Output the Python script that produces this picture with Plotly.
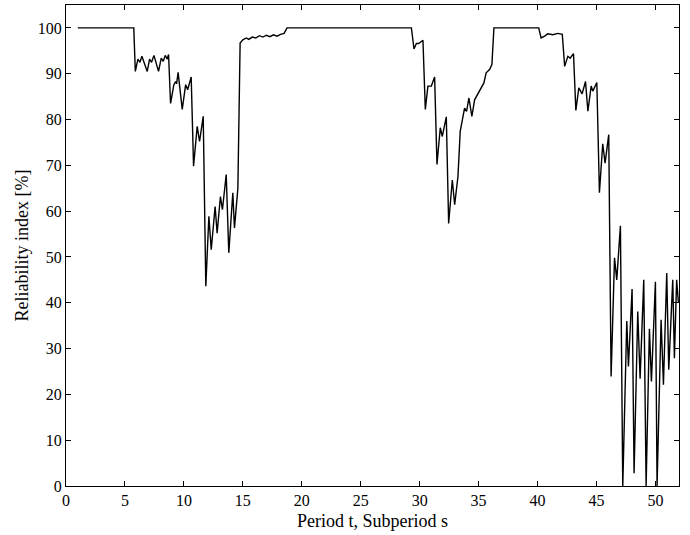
import plotly.graph_objects as go

# Period t (with subperiod fractions) and reliability index [%]
period_x = [
    1.0, 5.75, 5.88, 6.10, 6.27, 6.44, 6.89, 7.09, 7.26, 7.46, 7.85, 8.08, 8.25, 8.42, 8.59, 8.70,
    8.87, 9.15, 9.30, 9.38, 9.51, 9.86, 10.15, 10.32, 10.62, 10.82, 11.13, 11.33, 11.64, 11.86,
    12.12, 12.32, 12.65, 12.82, 13.10, 13.27, 13.59, 13.81, 14.15, 14.29, 14.58, 14.77, 15.0,
    15.3, 15.5, 15.8, 16.1, 16.4, 16.7, 17.0, 17.3, 17.6, 17.9, 18.2, 18.5, 18.75,
    29.3, 29.52, 29.72, 29.91, 30.28, 30.48, 30.70, 30.99, 31.27, 31.47, 31.75, 31.92, 32.26,
    32.46, 32.77, 32.97, 33.25, 33.44, 33.81, 33.98, 34.18, 34.43, 34.66, 34.88, 35.22, 35.45,
    35.64, 35.93, 36.13, 36.30,
    40.1, 40.3, 40.6, 40.87, 41.3, 41.72, 42.1, 42.3, 42.57, 42.77, 43.05, 43.25, 43.5, 43.78,
    44.07, 44.27, 44.55, 44.69, 45.03, 45.25, 45.53, 45.73, 46.04, 46.24, 46.53, 46.72, 47.03,
    47.23, 47.57, 47.71, 48.02, 48.19, 48.50, 48.70, 49.01, 49.21, 49.49, 49.66, 50.00, 50.14,
    50.48, 50.68, 50.96, 51.13, 51.47, 51.61, 51.80, 51.95,
]
reliability = [
    100, 100, 90.5, 93.2, 92.5, 93.8, 90.5, 93.2, 92.5, 94.0, 90.5, 93.4, 92.7, 94.0, 93.2, 94.2,
    83.5, 87.6, 88.3, 87.8, 90.3, 82.2, 87.6, 86.5, 89.3, 69.8, 78.5, 75.2, 80.7, 43.6,
    58.9, 51.6, 61.0, 55.2, 63.2, 60.3, 68.0, 50.9, 64.0, 56.3, 65.0, 96.7, 97.4,
    97.8, 97.5, 98.0, 97.8, 98.3, 98.0, 98.4, 98.1, 98.5, 98.2, 98.6, 98.8, 100,
    100, 95.4, 96.6, 96.6, 97.3, 82.2, 87.3, 87.3, 89.3, 70.2, 78.2, 76.3, 80.6,
    57.3, 66.8, 61.4, 67.6, 77.4, 82.5, 81.8, 84.7, 80.7, 84.3, 85.4, 86.9, 88.0,
    90.2, 90.9, 92.0, 100,
    100, 97.8, 98.2, 98.7, 98.5, 98.8, 98.6, 91.6, 93.8, 93.4, 94.4, 82.0, 86.9, 85.6,
    88.3, 81.8, 87.3, 86.2, 88.1, 64.0, 74.7, 70.5, 76.7, 23.9, 49.8, 45.0, 56.8,
    0, 36.0, 26.1, 43.0, 2.8, 38.1, 23.4, 45.0, 0, 34.3, 22.8, 44.6, 0,
    36.3, 22.1, 46.5, 25.4, 45.0, 27.9, 45.0, 40.0,
]

x_ticks = [0, 5, 10, 15, 20, 25, 30, 35, 40, 45, 50]
y_ticks = [0, 10, 20, 30, 40, 50, 60, 70, 80, 90, 100]

fig = go.Figure()
fig.add_trace(go.Scatter(
    x=period_x, y=reliability, mode="lines",
    line=dict(color="black", width=1.4),
    showlegend=False,
))

font_family = "Liberation Serif"
axis_common = dict(
    showline=True, linecolor="black", linewidth=1, mirror="ticks",
    ticks="inside", ticklen=5, tickwidth=1, tickcolor="black",
    showgrid=False, zeroline=False,
    tickfont=dict(family=font_family, size=16, color="black"),
)

fig.update_layout(
    width=690, height=535,
    margin=dict(l=66, r=11, t=5, b=49),
    paper_bgcolor="white", plot_bgcolor="white",
    font=dict(family=font_family, size=16, color="black"),
    xaxis=dict(range=[0, 52], tickvals=x_ticks,
               title=dict(text="Period t, Subperiod s", font=dict(family=font_family, size=18), standoff=6),
               **axis_common),
    yaxis=dict(range=[0, 105], tickvals=y_ticks,
               title=dict(text="Reliability index [%]", font=dict(family=font_family, size=18), standoff=4),
               **axis_common),
)

fig.write_html("out.html")
